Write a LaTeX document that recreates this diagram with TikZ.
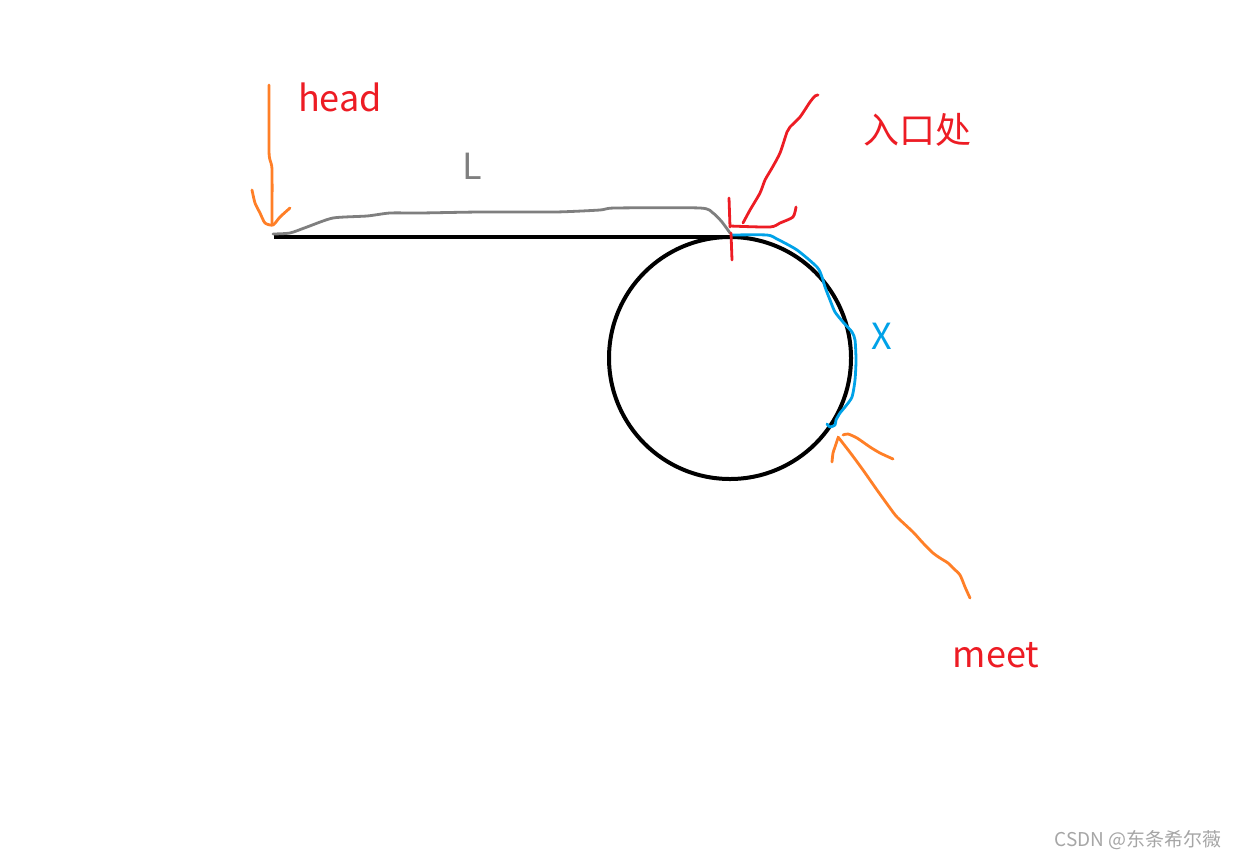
\documentclass[tikz,border=0pt]{standalone}
\usepackage{fontspec}
\setmainfont{Noto Sans CJK SC}
\definecolor{pred}{HTML}{ED1C24}
\definecolor{porange}{HTML}{FF7F27}
\definecolor{pblue}{HTML}{00A2E8}
\definecolor{pgray}{HTML}{7F7F7F}
\definecolor{wmark}{HTML}{A6A6A6}
\tikzset{
  pen/.style={line width=2.8pt, line cap=round, line join=round},
  lbl/.style={inner sep=0pt, font=\fontsize{36}{40}\selectfont},
}
\begin{document}
\begin{tikzpicture}[x=1pt,y=-1pt]
\useasboundingbox[fill=white] (0,0) rectangle (1236,860);

% main list and loop
\coordinate (start) at (274,237);
\coordinate (entry) at (730,237);
\coordinate (ctr) at (730,358);
\draw[line width=4.2pt] (start) -- (entry);
\draw[line width=4pt] (ctr) circle[radius=121];

% gray brace for L
\draw[pen, pgray] plot[smooth, tension=0.4] coordinates {(273,234) (290,233) (307,227) (333,218) (367,216) (390,213) (420,213) (480,212) (555,212) (600,210) (615,208) (700,208) (713,213) (722,222) (730,233)};

% blue segment X
\draw[pen, pblue] plot[smooth, tension=0.4] coordinates {(732,235) (767,235) (777,239) (797,250) (817,267) (822,277) (825,287) (830,300) (835,312) (843,322) (852,332) (855,340) (856,360) (855,380) (852,397) (845,407) (840,413) (836,420) (835,425) (830,427) (827,424)};

% orange arrow to head
\draw[pen, porange] plot[smooth, tension=0.4] coordinates {(269,85) (269,150) (270,160) (272,170) (272,225)};
\draw[pen, porange] plot[smooth, tension=0.4] coordinates {(252,190) (255,203) (260,213) (265,223) (273,225) (280,217) (290,208)};

% red arrow to entrance
\draw[pen, pred] plot[smooth, tension=0.4] coordinates {(818,95) (815,96) (810,102) (800,117) (790,127) (787,132) (780,153) (772,168) (765,180) (760,193) (750,210) (743,223)};
\draw[pen, pred] (729,198) -- (730,227);
\draw[pen, pred] plot[smooth, tension=0.4] coordinates {(730,226) (770,227) (780,223) (793,217) (796,207)};
\draw[pen, pred] (731,233) -- (732,260);

% orange arrow to meet
\draw[pen, porange] plot[smooth, tension=0.4] coordinates {(970,598) (965,587) (960,575) (953,568) (948,563) (940,558) (933,553) (923,543) (913,532) (897,517) (890,508) (877,490) (863,470) (852,455) (842,442) (838,437)};
\draw[pen, porange] plot[smooth, tension=0.4] coordinates {(838,438) (835,447) (833,453) (832,462)};
\draw[pen, porange] plot[smooth, tension=0.4] coordinates {(843,435) (848,434) (857,438) (870,447) (880,453) (893,459)};

% labels
\node[lbl, pred] (head) at (340,97) {head};
\node[lbl, pgray] (L) at (472,166) {L};
\node[lbl, pred] (rukou) at (917,130) {入口处};
\node[lbl, pblue] (X) at (882,336) {X};
\node[lbl, pred] (meet) at (996,655) {meet};
\node[inner sep=0pt, wmark, font=\fontsize{19}{22}\selectfont, anchor=east] (wm) at (1222,840) {CSDN @东条希尔薇};
\end{tikzpicture}
\end{document}
